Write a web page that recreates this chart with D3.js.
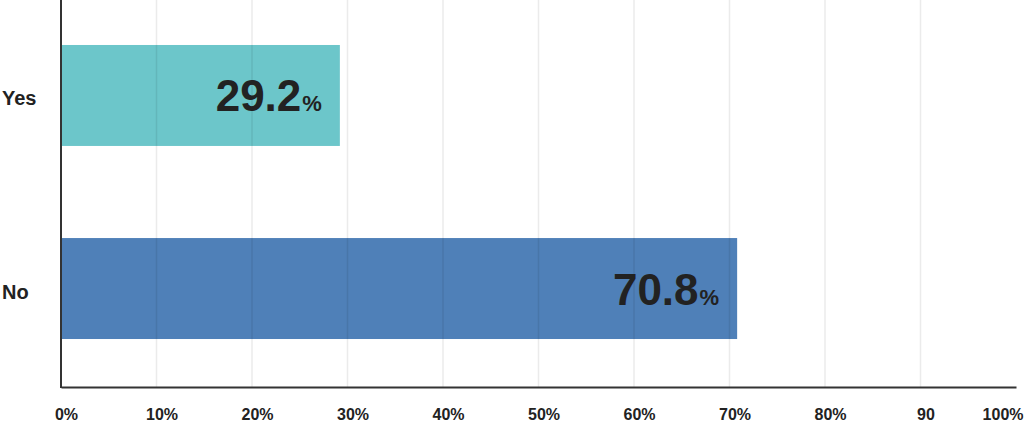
<!DOCTYPE html>
<html><head><meta charset="utf-8">
<script src="https://cdn.jsdelivr.net/npm/d3@7"></script>
<style>
html,body{margin:0;padding:0;background:#fff;}
svg{display:block;font-family:"Liberation Sans",Arial,Helvetica,sans-serif;}
</style></head><body>
<svg id="chart" width="1024" height="422"></svg>
<script>
const categories = ["Yes", "No"];
const values = [29.2, 70.8];
const barColors = ["#6cc6ca", "#4f80b8"];
const tickValues = [0, 10, 20, 30, 40, 50, 60, 70, 80, 90, 100];
const tickLabels = ["0%", "10%", "20%", "30%", "40%", "50%", "60%", "70%", "80%", "90", "100%"];

const svg = d3.select("#chart");
const mLeft = 61, mRight = 1016, mTop = 0, mBottom = 387;

const x = d3.scaleLinear().domain([0, 100]).range([mLeft, mRight]);
const y = d3.scaleBand().domain(categories).range([mTop, 384]).paddingInner(0.477).paddingOuter(0.233);

// bars
svg.selectAll("rect.bar").data(categories).join("rect")
  .attr("class", "bar")
  .attr("x", x(0))
  .attr("y", d => y(d))
  .attr("width", (d, i) => x(values[i]) - x(0))
  .attr("height", y.bandwidth())
  .attr("fill", (d, i) => barColors[i]);

// gridlines (on top of bars)
svg.selectAll("line.grid").data(tickValues.filter(v => v > 0 && v < 100)).join("line")
  .attr("class", "grid")
  .attr("x1", d => x(d)).attr("x2", d => x(d))
  .attr("y1", mTop).attr("y2", mBottom)
  .attr("stroke", "#000").attr("stroke-opacity", 0.08).attr("stroke-width", 1.5);

// x axis
const xAxis = d3.axisBottom(x).tickValues(tickValues).tickSize(0)
  .tickFormat((d, i) => tickLabels[i]);
const gx = svg.append("g").attr("transform", `translate(0,${mBottom})`).call(xAxis);
gx.select(".domain").attr("stroke", "#333").attr("stroke-width", 2);
gx.selectAll(".tick text")
  .attr("font-family", "Liberation Sans, Arial, sans-serif")
  .attr("font-size", 16).attr("font-weight", "bold").attr("fill", "#222")
  .attr("dy", 0).attr("y", 33)
  .attr("dx", 5)
  .each(function(d) {
    if (d === 100) { d3.select(this).attr("text-anchor", "end").attr("dx", 0).attr("x", 1023 - x(100)); }
  });

// y axis line
svg.append("line").attr("x1", mLeft).attr("x2", mLeft).attr("y1", 0).attr("y2", mBottom + 1)
  .attr("stroke", "#333").attr("stroke-width", 2);

// category labels
svg.selectAll("text.cat").data(categories).join("text")
  .attr("class", "cat")
  .attr("x", 2)
  .attr("y", d => y(d) + y.bandwidth() / 2 + 10)
  .attr("font-size", 20).attr("font-weight", "bold").attr("fill", "#222")
  .text(d => d);

// value labels
const vl = svg.selectAll("text.val").data(categories).join("text")
  .attr("class", "val")
  .attr("x", (d, i) => x(values[i]) - 18)
  .attr("y", d => y(d) + y.bandwidth() / 2 + 16)
  .attr("text-anchor", "end")
  .attr("font-weight", "bold").attr("fill", "#222");
vl.append("tspan").attr("font-size", 44).text((d, i) => values[i].toFixed(1));
vl.append("tspan").attr("font-size", 22).attr("dx", 1).text("%");
</script>
</body></html>
